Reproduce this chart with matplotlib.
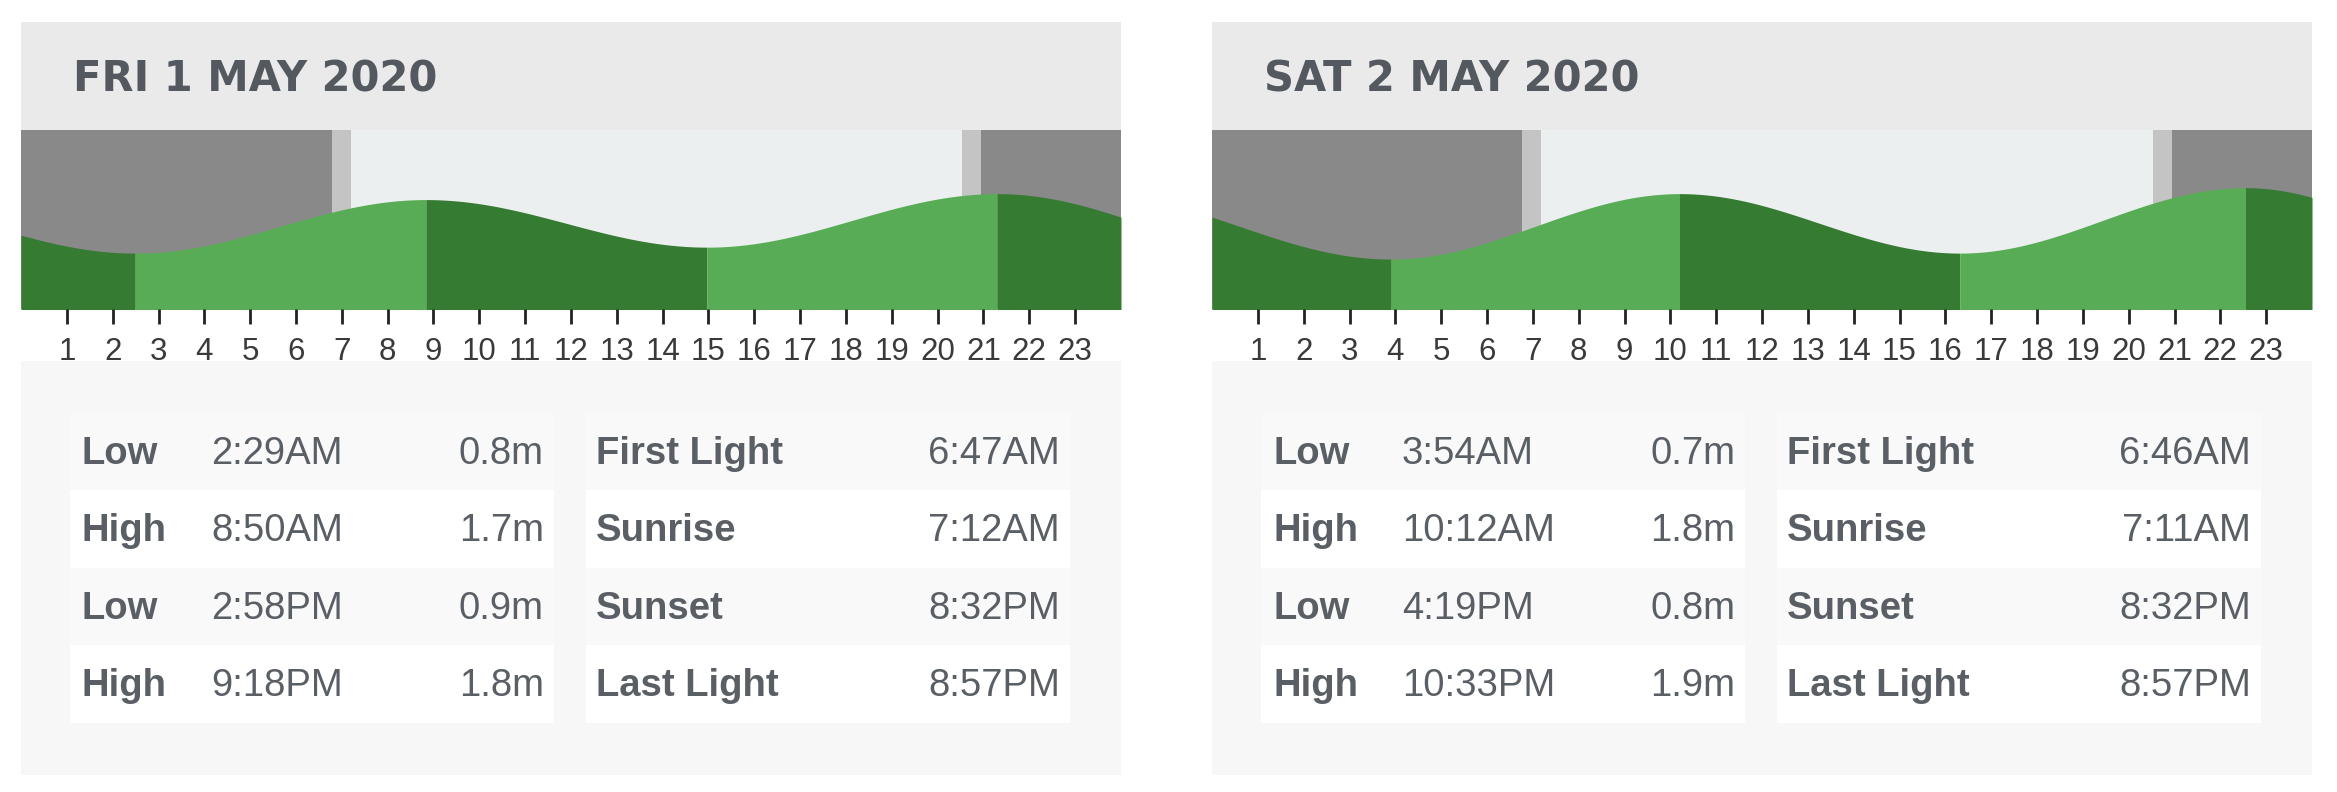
import matplotlib
matplotlib.use("Agg")
import matplotlib.pyplot as plt
from matplotlib.patches import Rectangle
import numpy as np

# ---------------- data ----------------
day_titles = ["FRI 1 MAY 2020", "SAT 2 MAY 2020"]
tide_types = [["Low", "High", "Low", "High"], ["Low", "High", "Low", "High"]]
tide_times = [["2:29AM", "8:50AM", "2:58PM", "9:18PM"],
              ["3:54AM", "10:12AM", "4:19PM", "10:33PM"]]
tide_heights = [[0.8, 1.7, 0.9, 1.8], [0.7, 1.8, 0.8, 1.9]]
sun_labels = ["First Light", "Sunrise", "Sunset", "Last Light"]
sun_times = [["6:47AM", "7:12AM", "8:32PM", "8:57PM"],
             ["6:46AM", "7:11AM", "8:32PM", "8:57PM"]]
# estimated extremes just outside the two days (for curve continuity)
prev_extreme_time = "8:10PM"   # 30 Apr, high
prev_extreme_height = 1.7
next_extreme_time = "4:50AM"   # 3 May, low
next_extreme_height = 0.6
hour_ticks = list(range(1, 24))

# ---------------- helpers ----------------
def to_hours(s):
    s = s.strip()
    ampm = s[-2:]
    h, m = s[:-2].split(":")
    h = int(h) % 12
    if ampm == "PM":
        h += 12
    return h + int(m) / 60.0

W, H = 2337, 792
DPI = 100
fig = plt.figure(figsize=(W / DPI, H / DPI), dpi=DPI)
fig.patch.set_facecolor("white")
bg = fig.add_axes([0, 0, 1, 1])
bg.set_xlim(0, W)
bg.set_ylim(H, 0)
bg.axis("off")

C_HEADER = "#eaeaea"
C_LOWER = "#f7f7f7"
C_ROWALT = "#f9f9f9"
C_NIGHT = "#898989"
C_TWI = "#c4c4c4"
C_DAY = "#eceff0"
C_DARK = "#367b32"
C_LIGHT = "#58ac55"
C_TEXT = "#5a5f66"
C_TITLE = "#545960"
TXT = ["Liberation Sans", "DejaVu Sans"]

# global extreme list in hours from start of day 1
ext_t = [to_hours(prev_extreme_time) - 24]
ext_h = [prev_extreme_height]
for d in range(2):
    for t, hgt in zip(tide_times[d], tide_heights[d]):
        ext_t.append(to_hours(t) + 24 * d)
        ext_h.append(hgt)
ext_t.append(to_hours(next_extreme_time) + 48)
ext_h.append(next_extreme_height)
ext_t = np.array(ext_t)
ext_h = np.array(ext_h)

panel_x = [21, 1212]
panel_w = 1100
top, head_b, chart_b, lower_t, lower_b = 22, 130, 309, 361, 775
FS = 27.5

for d in range(2):
    x0 = panel_x[d]
    bg.add_patch(Rectangle((x0, top), panel_w, head_b - top, color=C_HEADER, lw=0))
    bg.add_patch(Rectangle((x0, lower_t), panel_w, lower_b - lower_t, color=C_LOWER, lw=0))
    bg.text(x0 + 52, 92, day_titles[d], fontsize=30, fontweight="bold",
            family=["DejaVu Sans"], color=C_TITLE, va="baseline", ha="left")

    # table rows
    row_top = [413, 490, 568, 645]
    row_h = 77.5
    boxes = [(x0 + 49, 484), (x0 + 565, 484)]
    for r in range(4):
        rc = C_ROWALT if r % 2 == 0 else "white"
        for bx, bw in boxes:
            bg.add_patch(Rectangle((bx, row_top[r]), bw, row_h, color=rc, lw=0))
        base = row_top[r] + row_h / 2 + 12.5
        bg.text(x0 + 61, base, tide_types[d][r], fontsize=FS, fontweight="bold",
                family=TXT, color=C_TEXT, va="baseline", ha="left")
        bg.text(x0 + 190, base, tide_times[d][r], fontsize=FS,
                family=TXT, color=C_TEXT, va="baseline", ha="left")
        bg.text(x0 + 523, base, f"{tide_heights[d][r]:.1f}m", fontsize=FS,
                family=TXT, color=C_TEXT, va="baseline", ha="right")
        bg.text(x0 + 575, base, sun_labels[r], fontsize=FS, fontweight="bold",
                family=TXT, color=C_TEXT, va="baseline", ha="left")
        bg.text(x0 + 1039, base, sun_times[d][r], fontsize=FS,
                family=TXT, color=C_TEXT, va="baseline", ha="right")

    # chart axes
    ax = fig.add_axes([x0 / W, 1 - chart_b / H, panel_w / W, (chart_b - head_b) / H])
    ax.set_xlim(0, 24)
    ax.set_ylim(-0.14, 2.87)
    fl, sr, ss, ll = [to_hours(s) for s in sun_times[d]]
    ax.axvspan(0, fl, color=C_NIGHT, lw=0)
    ax.axvspan(fl, sr, color=C_TWI, lw=0)
    ax.axvspan(sr, ss, color=C_DAY, lw=0)
    ax.axvspan(ss, ll, color=C_TWI, lw=0)
    ax.axvspan(ll, 24, color=C_NIGHT, lw=0)

    off = 24 * d
    for i in range(len(ext_t) - 1):
        t0, t1 = ext_t[i] - off, ext_t[i + 1] - off
        if t1 < 0 or t0 > 24:
            continue
        a, b = max(t0, 0), min(t1, 24)
        tt = np.linspace(a, b, 200)
        f = (tt - t0) / (t1 - t0)
        hh = ext_h[i] + (ext_h[i + 1] - ext_h[i]) * (1 - np.cos(np.pi * f)) / 2
        col = C_LIGHT if ext_h[i + 1] > ext_h[i] else C_DARK
        ax.fill_between(tt, -1, hh, color=col, lw=0)

    for s in ax.spines.values():
        s.set_visible(False)
    ax.set_yticks([])
    ax.set_xticks(hour_ticks)
    ax.set_xticklabels([str(h) for h in hour_ticks],
                       family=["Liberation Sans Narrow", "Liberation Sans"],
                       fontsize=22.5, color="#3a3a3a")
    ax.tick_params(axis="x", direction="out", length=10.5, width=2.0,
                   color="#222222", pad=10)

fig.savefig("out.png", dpi=DPI, facecolor="white")
